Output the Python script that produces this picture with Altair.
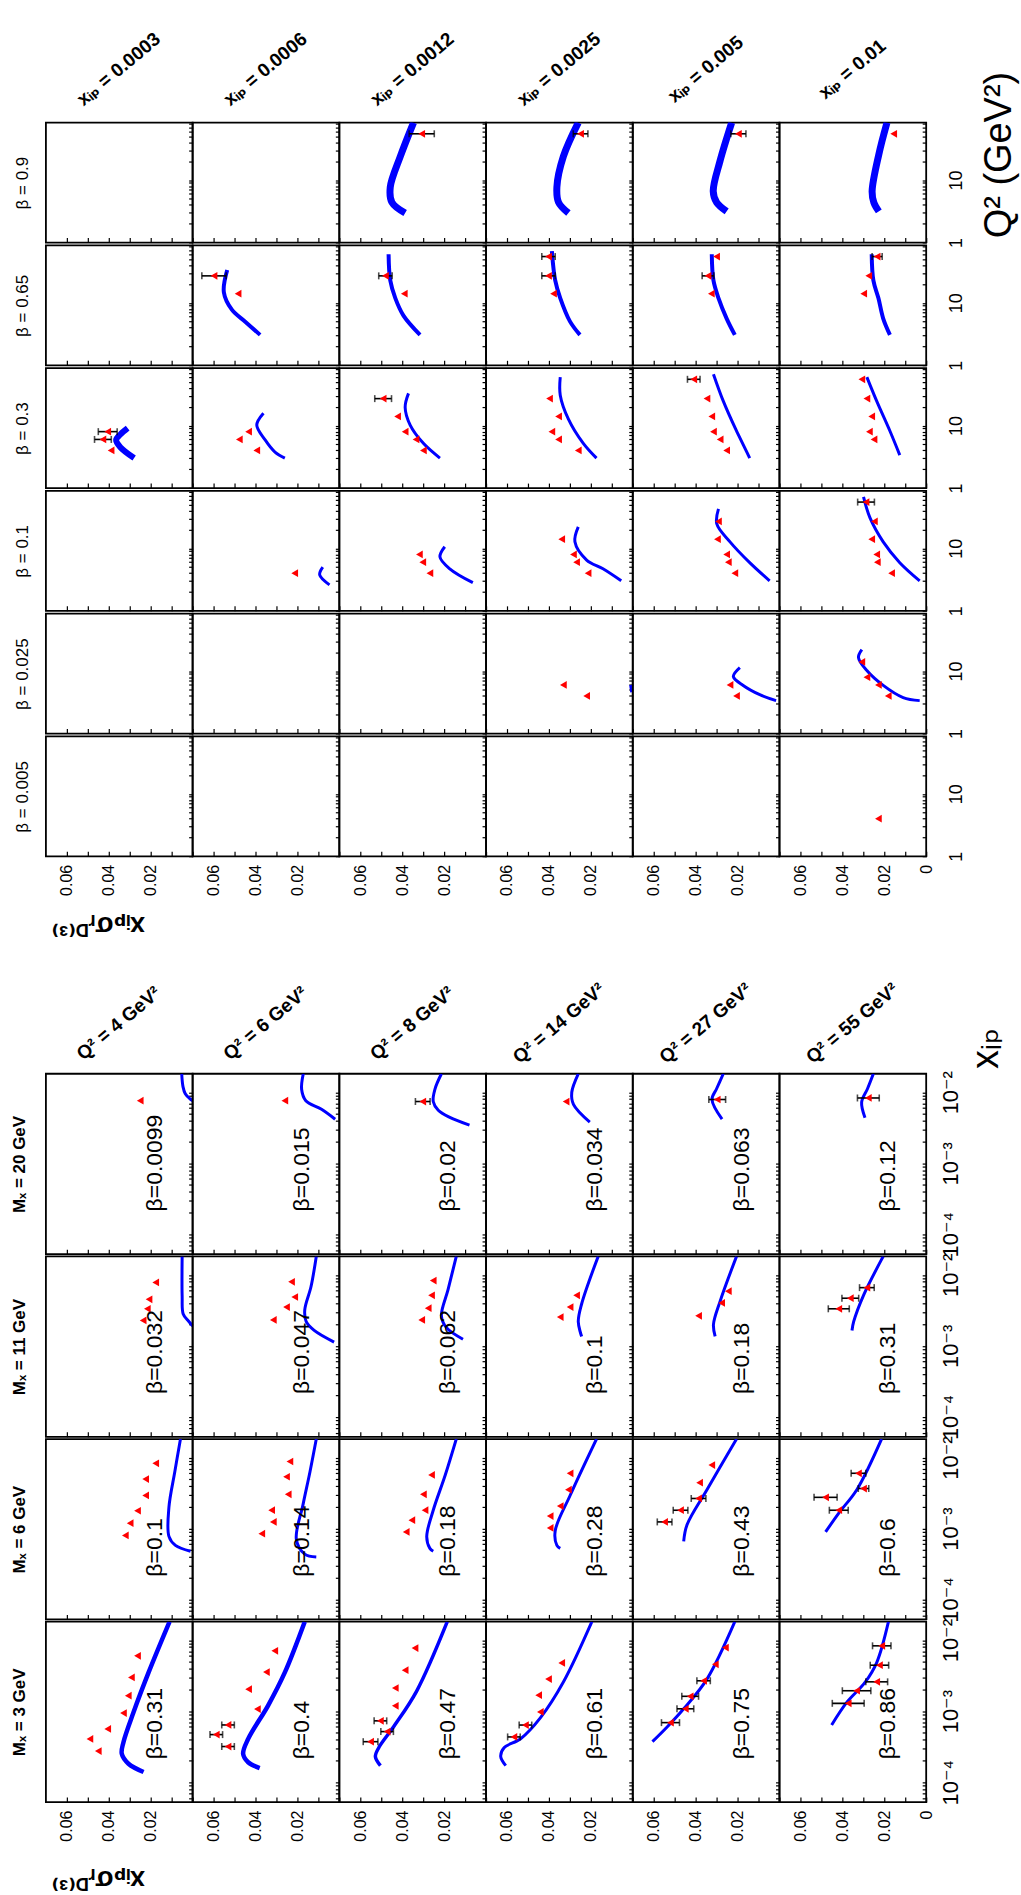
import altair as alt
import pandas as pd

# ------------------------------------------------------------------
# Bins / panel labels
# ------------------------------------------------------------------
XIP_BINS = [0.0003, 0.0006, 0.0012, 0.0025, 0.005, 0.01]      # columns of the Q2 plot
BETA_BINS = [0.9, 0.65, 0.3, 0.1, 0.025, 0.005]                 # rows of the Q2 plot
Q2_BINS = [4, 6, 8, 14, 27, 55]                                 # columns of the x_IP plot
MX_BINS = [20, 11, 6, 3]                                        # rows of the x_IP plot

BETA_TAGS_MX20 = ["0.0099", "0.015", "0.02", "0.034", "0.063", "0.12"]
BETA_TAGS_MX11 = ["0.032", "0.047", "0.062", "0.1", "0.18", "0.31"]
BETA_TAGS_MX6 = ["0.1", "0.14", "0.18", "0.28", "0.43", "0.6"]
BETA_TAGS_MX3 = ["0.31", "0.4", "0.47", "0.61", "0.75", "0.86"]

# ------------------------------------------------------------------
# Q2 plot: measured points {x_IP: [(Q2, x_IP*sigma_r, error)]}
#          model curves    {x_IP: [(Q2, x_IP*sigma_r)]}
# ------------------------------------------------------------------
B090_PTS = {0.0012: [(55, 0.0307, 0.006)], 0.0025: [(55, 0.0249, 0.0035)],
            0.005: [(55, 0.0196, 0.0036)], 0.01: [(55, 0.0155, 0)]}
B090_FIT = {0.0012: [(83, 0.0346), (23.9, 0.0409), (7.7, 0.0457), (4.4, 0.0449), (2.97, 0.0386)],
            0.0025: [(83, 0.026), (23.9, 0.0331), (7.7, 0.0362), (4.4, 0.0354), (2.97, 0.0307)],
            0.005: [(83, 0.0228), (20, 0.0284), (6.6, 0.0316), (4.4, 0.030), (3.15, 0.0252)],
            0.01: [(83, 0.0187), (25.7, 0.0226), (6.6, 0.0258), (4.4, 0.025), (3.15, 0.0226)]}

B065_PTS = {0.0006: [(27, 0.0598, 0.0058), (14, 0.0483, 0)],
            0.0012: [(27, 0.048, 0.0032), (14, 0.039, 0)],
            0.0025: [(55, 0.0402, 0.0032), (27, 0.0402, 0.0032), (14, 0.0378, 0)],
            0.005: [(55, 0.030, 0), (27, 0.0341, 0.0028), (14, 0.0325, 0)],
            0.01: [(55, 0.0234, 0.0024), (27, 0.0274, 0), (14, 0.0298, 0)]}
B065_FIT = {0.0006: [(33.6, 0.0535), (14.8, 0.0551), (7.7, 0.0512), (5.0, 0.0449), (3.07, 0.0378)],
            0.0012: [(60, 0.0465), (22.8, 0.0457), (11.9, 0.0433), (6.25, 0.0394), (3.07, 0.0315)],
            0.0025: [(67, 0.0386), (22.8, 0.037), (11.9, 0.0346), (5.0, 0.0299), (3.07, 0.0252)],
            0.005: [(60, 0.0323), (22.8, 0.0315), (11.9, 0.0291), (5.6, 0.0252), (3.07, 0.0213)],
            0.01: [(60, 0.026), (22.8, 0.0252), (11.9, 0.0228), (5.6, 0.0205), (3.07, 0.0173)]}

B030_PTS = {0.0003: [(8, 0.0405, 0.0045), (6, 0.0428, 0.004), (4, 0.0389, 0)],
            0.0006: [(8, 0.0433, 0), (6, 0.0477, 0), (4, 0.0394, 0)],
            0.0012: [(27, 0.0491, 0.004), (14, 0.0422, 0), (8, 0.0386, 0), (6, 0.0334, 0), (4, 0.0299, 0)],
            0.0025: [(27, 0.0397, 0), (14, 0.0354, 0), (8, 0.0386, 0), (6, 0.0354, 0), (4, 0.026, 0)],
            0.005: [(55, 0.0409, 0.003), (27, 0.0346, 0), (14, 0.0323, 0), (8, 0.0315, 0), (6, 0.0283, 0),
                    (4, 0.0252, 0)],
            0.01: [(55, 0.0307, 0), (27, 0.0283, 0), (14, 0.026, 0), (8, 0.0271, 0), (6, 0.0249, 0)]}
B030_FIT = {0.0003: [(9.1, 0.031), (7.2, 0.0345), (5.9, 0.0365), (4.5, 0.0345), (3.02, 0.0279)],
            0.0006: [(15.8, 0.0362), (10.2, 0.0394), (5.9, 0.0354), (3.77, 0.0307), (3.02, 0.026)],
            0.0012: [(32.8, 0.037), (19.7, 0.0386), (10.2, 0.0362), (5.2, 0.0299), (3.02, 0.022)],
            0.0025: [(59.6, 0.0346), (30.7, 0.0346), (12.7, 0.0307), (5.2, 0.0236), (3.02, 0.0173)],
            0.005: [(66.5, 0.0315), (24.6, 0.0268), (8.2, 0.0205), (3.02, 0.0142)],
            0.01: [(59.6, 0.0283), (24.6, 0.0236), (8.2, 0.0173), (3.37, 0.0126)]}

B010_PTS = {0.0006: [(4, 0.0213, 0)],
            0.0012: [(8, 0.0318, 0), (6, 0.0302, 0), (4, 0.0268, 0)],
            0.0025: [(14, 0.0339, 0), (8, 0.0283, 0), (6, 0.0268, 0), (4, 0.0213, 0)],
            0.005: [(27, 0.0291, 0), (14, 0.0296, 0), (8, 0.0252, 0), (6, 0.0244, 0), (4, 0.0213, 0)],
            0.01: [(55, 0.0287, 0.004), (27, 0.0247, 0), (14, 0.026, 0), (8, 0.0236, 0), (6, 0.0233, 0),
                   (4, 0.0165, 0)]}
B010_FIT = {0.0006: [(5.0, 0.0079), (3.77, 0.0094), (2.6, 0.0047)],
            0.0012: [(10.6, 0.0197), (7.3, 0.022), (4.7, 0.0173), (2.82, 0.0063)],
            0.0025: [(22, 0.026), (12.7, 0.0276), (6.5, 0.022), (4.7, 0.0142), (3.02, 0.0055)],
            0.005: [(42.8, 0.0291), (24.6, 0.0299), (12.7, 0.0236), (5.9, 0.0142), (3.02, 0.0047)],
            0.01: [(66.5, 0.0299), (30.7, 0.0268), (12.7, 0.0205), (5.9, 0.0126), (3.02, 0.0031)]}

B0025_PTS = {0.0025: [(6, 0.0331, 0), (4, 0.022, 0)],
             0.005: [(6, 0.0236, 0), (4, 0.0205, 0)],
             0.01: [(14, 0.0307, 0), (8, 0.0283, 0), (6, 0.0228, 0), (4, 0.0181, 0)]}
B0025_FIT = {0.0025: [(6.0, 0.001), (4.6, 0.0005)],
             0.005: [(11.4, 0.0189), (8.2, 0.022), (5.9, 0.0173), (4.2, 0.0094), (3.37, 0.0016)],
             0.01: [(22, 0.0307), (16.5, 0.0323), (10.2, 0.0283), (5.9, 0.0205), (3.77, 0.011), (3.37, 0.0031)]}

B0005_PTS = {0.01: [(4, 0.0228, 0)]}
B0005_FIT = {}

# ------------------------------------------------------------------
# x_IP plot: measured points {Q2: [(x_IP, x_IP*sigma_r, error)]}
#            model curves    {Q2: [(x_IP, x_IP*sigma_r)]}
# ------------------------------------------------------------------
MX20_PTS = {4: [(0.0076, 0.025, 0)], 6: [(0.0076, 0.026, 0)], 8: [(0.0074, 0.0302, 0.0035)],
            14: [(0.0074, 0.0318, 0)], 27: [(0.0079, 0.0297, 0.004)], 55: [(0.0083, 0.0276, 0.0052)]}
MX20_FIT = {4: [(0.0182, 0.0052), (0.012, 0.0046), (0.0095, 0.0035), (0.0082, 0.0015), (0.0076, 0.0)],
            6: [(0.0182, 0.0172), (0.011, 0.018), (0.0076, 0.016), (0.00575, 0.0085), (0.00417, 0.002)],
            8: [(0.0182, 0.0213), (0.011, 0.0244), (0.0074, 0.0252), (0.00557, 0.0228), (0.00442, 0.0173),
                (0.00344, 0.0079)],
            14: [(0.0182, 0.026), (0.01, 0.0291), (0.00676, 0.0283), (0.0038, 0.0205)],
            27: [(0.0182, 0.0268), (0.0112, 0.030), (0.0079, 0.0322), (0.00417, 0.0274)],
            55: [(0.0182, 0.0252), (0.0112, 0.028), (0.00724, 0.0308), (0.00437, 0.0292)]}

MX11_PTS = {4: [(0.00783, 0.0176, 0), (0.00452, 0.0208, 0), (0.00333, 0.0216, 0), (0.00228, 0.0236, 0)],
            6: [(0.00798, 0.0228, 0), (0.00488, 0.0213, 0), (0.00352, 0.0252, 0), (0.00232, 0.0315, 0)],
            8: [(0.0083, 0.0252, 0), (0.00515, 0.026, 0), (0.0034, 0.0276, 0), (0.00232, 0.0307, 0)],
            14: [(0.00515, 0.0268, 0), (0.00352, 0.0299, 0), (0.00255, 0.0346, 0)],
            27: [(0.00589, 0.0244, 0), (0.00403, 0.0276, 0), (0.00265, 0.0386, 0)],
            55: [(0.00661, 0.0283, 0.0035), (0.00469, 0.0362, 0.004), (0.00333, 0.0417, 0.005)]}
MX11_FIT = {4: [(0.0182, 0.005), (0.005, 0.005), (0.00282, 0.0045), (0.00224, 0.002), (0.00191, 0.0)],
            6: [(0.0182, 0.011), (0.00685, 0.0135), (0.00321, 0.0165), (0.00219, 0.0158), (0.00165, 0.012),
                (0.00113, 0.0025)],
            8: [(0.0182, 0.0142), (0.00624, 0.0181), (0.00265, 0.0213), (0.00182, 0.019), (0.00124, 0.011)],
            14: [(0.0182, 0.0165), (0.00389, 0.0244), (0.00219, 0.026), (0.00136, 0.0244)],
            27: [(0.0182, 0.0205), (0.00427, 0.0283), (0.002, 0.0315), (0.00136, 0.0307)],
            55: [(0.0182, 0.0205), (0.00515, 0.0299), (0.00219, 0.0346), (0.00165, 0.0354)]}

MX6_PTS = {4: [(0.0083, 0.0176, 0), (0.00497, 0.0224, 0), (0.00292, 0.0224, 0), (0.00178, 0.0263, 0),
               (0.00119, 0.0298, 0), (0.0008, 0.0321, 0)],
           6: [(0.00879, 0.0236, 0), (0.00536, 0.0252, 0), (0.00303, 0.0244, 0), (0.00181, 0.0323, 0),
               (0.00124, 0.0315, 0), (0.000847, 0.037, 0)],
           8: [(0.00568, 0.026, 0), (0.00303, 0.0299, 0), (0.00181, 0.0291, 0), (0.00131, 0.0354, 0),
               (0.000895, 0.0381, 0)],
           14: [(0.006, 0.0299, 0), (0.00352, 0.0307, 0), (0.00207, 0.0346, 0), (0.0015, 0.0394, 0),
                (0.00102, 0.0394, 0)],
           27: [(0.00783, 0.0323, 0), (0.00443, 0.0381, 0), (0.00265, 0.0386, 0.0035), (0.00181, 0.0472, 0.0035),
                (0.00124, 0.0548, 0.0035)],
           55: [(0.006, 0.0323, 0.0035), (0.00366, 0.0299, 0.0025), (0.00275, 0.048, 0.0055),
                (0.00181, 0.0417, 0.0045)]}
MX6_FIT = {4: [(0.0182, 0.0058), (0.00631, 0.0085), (0.002, 0.0113), (0.000776, 0.0113), (0.000579, 0.0082),
               (0.000479, 0.001)],
           6: [(0.0182, 0.011), (0.00631, 0.014), (0.00219, 0.0173), (0.0007, 0.0205), (0.000437, 0.0165),
               (0.000398, 0.011)],
           8: [(0.0182, 0.0142), (0.00562, 0.0195), (0.00181, 0.0252), (0.000769, 0.0283), (0.000526, 0.0268),
               (0.000479, 0.0252)],
           14: [(0.0182, 0.0173), (0.00292, 0.0299), (0.000931, 0.037), (0.000579, 0.0362), (0.000525, 0.0346)],
           27: [(0.0182, 0.0205), (0.00352, 0.0346), (0.00113, 0.0441), (0.000661, 0.0457)],
           55: [(0.0182, 0.0213), (0.00352, 0.0331), (0.00165, 0.0417), (0.000895, 0.048)]}

MX3_PTS = {4: [(0.000407, 0.049, 0), (0.000274, 0.045, 0), (0.000562, 0.0405, 0), (0.000942, 0.033, 0),
               (0.00165, 0.0307, 0), (0.00299, 0.0292, 0), (0.00603, 0.0263, 0)],
           6: [(0.00064, 0.0531, 0.003), (0.000468, 0.0587, 0.003), (0.000318, 0.0531, 0.003),
               (0.00107, 0.0391, 0), (0.00204, 0.0433, 0), (0.00355, 0.0348, 0), (0.00708, 0.0308, 0)],
           8: [(0.00774, 0.0339, 0), (0.00378, 0.0386, 0), (0.00212, 0.0433, 0), (0.00119, 0.0433, 0),
               (0.000731, 0.0504, 0.003), (0.000516, 0.0472, 0.003), (0.000372, 0.0551, 0.0035)],
           14: [(0.00478, 0.0339, 0), (0.00283, 0.0402, 0), (0.00168, 0.0449, 0), (0.000977, 0.0441, 0),
                (0.000638, 0.0512, 0.003), (0.000434, 0.0567, 0.003)],
           27: [(0.00785, 0.0258, 0), (0.00457, 0.0306, 0), (0.00268, 0.0362, 0.0032), (0.00162, 0.0426, 0.004),
                (0.00108, 0.0449, 0.004), (0.00069, 0.052, 0.0043)],
           55: [(0.00832, 0.0212, 0.0044), (0.00444, 0.0223, 0.0044), (0.00259, 0.0236, 0.0052),
                (0.00194, 0.0332, 0.0068), (0.00129, 0.0372, 0.0076)]}
MX3_FIT = {4: [(0.0182, 0.011), (0.00351, 0.021), (0.000964, 0.0282), (0.000366, 0.033), (0.000251, 0.0338),
               (0.000182, 0.0306), (0.000139, 0.0234)],
           6: [(0.0182, 0.0165), (0.00351, 0.026), (0.0012, 0.034), (0.000407, 0.0435), (0.000251, 0.0459),
               (0.000191, 0.0435), (0.000158, 0.038)],
           8: [(0.0182, 0.0185), (0.00192, 0.0331), (0.000603, 0.0441), (0.000306, 0.0512), (0.000229, 0.0528),
               (0.000171, 0.0504)],
           14: [(0.0182, 0.0195), (0.00257, 0.0331), (0.000805, 0.0441), (0.000409, 0.0535), (0.000306, 0.0614),
                (0.000229, 0.063), (0.000171, 0.0606)],
           27: [(0.0182, 0.0213), (0.00283, 0.0346), (0.00108, 0.0457), (0.000603, 0.0535), (0.000372, 0.0606)],
           55: [(0.0182, 0.018), (0.00484, 0.0236), (0.00254, 0.0292), (0.00133, 0.0379), (0.00064, 0.0451)]}

# ------------------------------------------------------------------
# Styling
# ------------------------------------------------------------------
FONT = "'Liberation Sans', Arial, 'DejaVu Sans', sans-serif"
BLUE = "#0000ff"
RED = "#ff0000"

W = 147             # panel width
H_TOP = 120.17      # panel height, Q2 plot
H_BOT = 180.75      # panel height, x_IP plot
ROW_GAP = 2
GRID_GAP = 217

VAL_TICKS = [0, 0.01, 0.02, 0.03, 0.04, 0.05, 0.06]
Q2_TICKS = [1, 2, 3, 4, 5, 6, 7, 8, 9, 10, 20, 30, 40, 50, 60, 70, 80]
XIP_TICKS = [6e-5, 7e-5, 8e-5, 9e-5, 1e-4, 2e-4, 3e-4, 4e-4, 5e-4, 6e-4, 7e-4, 8e-4, 9e-4,
             1e-3, 2e-3, 3e-3, 4e-3, 5e-3, 6e-3, 7e-3, 8e-3, 9e-3, 1e-2]

Y_TITLE = "xᵢₚσᵣᴰ⁽³⁾"

# thicker model bands
FIT_WIDTH_TOP = {0.9: 7, 0.65: 4}
FIT_WIDTH_BOT = {(3, 4): 4.5, (3, 6): 4.5, (3, 8): 3.5}


def vscale():
    return alt.Scale(domain=[0, 0.07], reverse=True, nice=False, zero=False)


def q2scale():
    return alt.Scale(type="log", domain=[1, 83], nice=False)


def xipscale():
    return alt.Scale(type="log", domain=[5.25e-5, 0.0182], nice=False)


def value_axis(labels, last, title=None, title_y=68):
    zero = "'0'" if last else "''"
    kw = dict(values=VAL_TICKS, domain=False, grid=False, tickColor="black", tickWidth=1.2,
              tickSize={"expr": "-5"}, labels=labels, labelOverlap=False, labelFlush=False)
    if labels:
        kw.update(labelExpr=f"datum.value == 0 ? {zero} : (datum.value == 0.02 || datum.value == 0.04 || "
                            f"datum.value == 0.06) ? format(datum.value, '.2f') : ''",
                  labelAngle=270, labelAlign="right", labelBaseline="middle", labelPadding=13,
                  labelFontSize=16, labelFont=FONT, labelColor="black")
    if title:
        kw.update(title=title, titleAngle=180, titleX=52, titleY=title_y, titleAlign="center",
                  titleBaseline="middle", titleFontSize=27, titleFont=FONT, titleFontWeight="bold",
                  titleColor="black")
    else:
        kw.update(title=None)
    return alt.Axis(**kw)


def log_axis(values, labels, expr, pad, size, title=None, title_x=0, title_y=0):
    kw = dict(orient="right", values=values, domain=False, grid=False, tickColor="black", tickWidth=1.2,
              tickSize={"expr": "-4"}, labels=labels, labelOverlap=False, labelFlush=False)
    if labels:
        kw.update(labelExpr=expr, labelAngle=270, labelAlign="center", labelBaseline="middle",
                  labelPadding=pad, labelFontSize=size, labelFont=FONT, labelColor="black")
    if title:
        kw.update(title=title, titleAngle=270, titleX=title_x, titleY=title_y, titleAlign="center",
                  titleBaseline="middle", titleFontSize=38, titleFont=FONT, titleFontWeight="normal",
                  titleColor="black")
    else:
        kw.update(title=None)
    return alt.Axis(**kw)


def header_axis(text, dy):
    return alt.Axis(orient="top", title=text, titleX=W / 2 - 1, titleY=dy, titleAngle=320, titleAlign="center",
                    titleBaseline="middle", titleFontSize=19, titleFont=FONT, titleFontWeight="bold",
                    titleColor="black", ticks=False, labels=False, domain=False, grid=False)


def row_axis(text, dx, height, bold):
    return alt.Axis(orient="left", title=text, titleX=dx, titleY=height / 2, titleAngle=270, titleAlign="center",
                    titleBaseline="middle", titleFontSize=17, titleFont=FONT,
                    titleFontWeight="bold" if bold else "normal", titleColor="black",
                    ticks=False, labels=False, domain=False, grid=False)


Q2_LABELS = "datum.value == 1 ? '1' : datum.value == 10 ? '10' : ''"
XIP_LABELS = ("datum.value == 0.0001 ? '10⁻⁴' : datum.value == 0.001 ? '10⁻³' : "
              "datum.value == 0.01 ? '10⁻²' : ''")


def panel(pts, fit, yscale, height, x_axis, y_axis, fit_width=3, tag=None, top_axis=None, left_axis=None):
    layers = []
    if top_axis is not None or left_axis is not None:
        base = pd.DataFrame({"v": [], "y": []})
        layers.append(alt.Chart(base).mark_point().encode(
            x=alt.X("v:Q", scale=vscale(), axis=top_axis),
            y=alt.Y("y:Q", scale=yscale(), axis=left_axis)))
    fit_df = pd.DataFrame(fit or [], columns=["y", "v"])
    fit_df["k"] = range(len(fit_df))
    layers.append(alt.Chart(fit_df).mark_line(color=BLUE, strokeWidth=fit_width, clip=True,
                                              interpolate="catmull-rom").encode(
        x=alt.X("v:Q", scale=vscale(), axis=x_axis),
        y=alt.Y("y:Q", scale=yscale(), axis=y_axis),
        order="k:Q"))
    pts_df = pd.DataFrame(pts or [], columns=["y", "v", "e"])
    err_df = pts_df[pts_df["e"] > 0].copy()
    if len(err_df):
        err_df["lo"] = err_df["v"] - err_df["e"]
        err_df["hi"] = err_df["v"] + err_df["e"]
        layers.append(alt.Chart(err_df).mark_errorbar(ticks=True, color="black", thickness=1.6, size=7).encode(
            x=alt.X("lo:Q", scale=vscale(), axis=None), x2="hi:Q",
            y=alt.Y("y:Q", scale=yscale(), axis=None)))
    if len(pts_df):
        layers.append(alt.Chart(pts_df).mark_point(shape="triangle-left", filled=True, color=RED,
                                                   size=60, opacity=1).encode(
            x=alt.X("v:Q", scale=vscale(), axis=None),
            y=alt.Y("y:Q", scale=yscale(), axis=None)))
    if tag:
        tag_df = pd.DataFrame({"y": [2.1e-4], "v": [0.018], "t": [tag]})
        layers.append(alt.Chart(tag_df).mark_text(angle=270, align="left", baseline="middle", fontSize=23,
                                                  font=FONT, color="black").encode(
            x=alt.X("v:Q", scale=vscale(), axis=None),
            y=alt.Y("y:Q", scale=yscale(), axis=None),
            text="t:N"))
    return alt.layer(*layers).properties(width=W, height=height).resolve_axis(x="independent", y="independent")


cells = []

# ------------------------------------------------------------------
# Q2 plot (upper block)
# ------------------------------------------------------------------
top_data = [(0.9, B090_PTS, B090_FIT), (0.65, B065_PTS, B065_FIT), (0.3, B030_PTS, B030_FIT),
            (0.1, B010_PTS, B010_FIT), (0.025, B0025_PTS, B0025_FIT), (0.005, B0005_PTS, B0005_FIT)]
for r, (beta, pts_d, fit_d) in enumerate(top_data):
    for c, xip in enumerate(XIP_BINS):
        last = c == len(XIP_BINS) - 1
        bottom = r == len(top_data) - 1
        x_axis = value_axis(bottom, last, Y_TITLE if (bottom and c == 0) else None, 68)
        y_axis = log_axis(Q2_TICKS, last, Q2_LABELS, 34, 18,
                          "Q² (GeV²)" if (last and r == 0) else None, 73, 32)
        width = FIT_WIDTH_TOP.get(beta, 3)
        if beta == 0.3 and xip == 0.0003:
            width = 6
        cells.append(panel(pts_d.get(xip), fit_d.get(xip), q2scale, H_TOP, x_axis, y_axis, width,
                           top_axis=header_axis(f"xᵢₚ = {xip}", -54) if r == 0 else None,
                           left_axis=row_axis(f"β = {beta}", -23, H_TOP, False) if c == 0 else None))

# empty spacer row between the two blocks
for c in range(6):
    cells.append(alt.Chart(pd.DataFrame({"v": [], "y": []})).mark_point().encode(
        x=alt.X("v:Q", axis=None), y=alt.Y("y:Q", axis=None)).properties(
        width=W, height=GRID_GAP - 2 * ROW_GAP, view=alt.ViewBackground(stroke=None)))

# ------------------------------------------------------------------
# x_IP plot (lower block)
# ------------------------------------------------------------------
bot_data = [(20, MX20_PTS, MX20_FIT, BETA_TAGS_MX20), (11, MX11_PTS, MX11_FIT, BETA_TAGS_MX11),
            (6, MX6_PTS, MX6_FIT, BETA_TAGS_MX6), (3, MX3_PTS, MX3_FIT, BETA_TAGS_MX3)]
for r, (mx, pts_d, fit_d, tags) in enumerate(bot_data):
    for c, q2 in enumerate(Q2_BINS):
        last = c == len(Q2_BINS) - 1
        bottom = r == len(bot_data) - 1
        x_axis = value_axis(bottom, last, Y_TITLE if (bottom and c == 0) else None, 77)
        y_axis = log_axis(XIP_TICKS, last, XIP_LABELS, 28, 22,
                          "xᵢₚ" if (last and r == 0) else None, 60, -26)
        cells.append(panel(pts_d.get(q2), fit_d.get(q2), xipscale, H_BOT, x_axis, y_axis,
                           FIT_WIDTH_BOT.get((mx, q2), 3), "β=" + tags[c],
                           top_axis=header_axis(f"Q² = {q2} GeV²", -51) if r == 0 else None,
                           left_axis=row_axis(f"Mₓ = {mx} GeV", -26, H_BOT, True) if c == 0 else None))

chart = alt.concat(*cells, columns=6, spacing={"row": ROW_GAP, "column": 0}, bounds="flush").properties(
    padding={"left": 10, "top": 26, "right": 2, "bottom": 5},
    background="white",
).configure_view(stroke="black", strokeWidth=1.8)

chart.save("out.html", embed_options={"renderer": "svg", "actions": False})
